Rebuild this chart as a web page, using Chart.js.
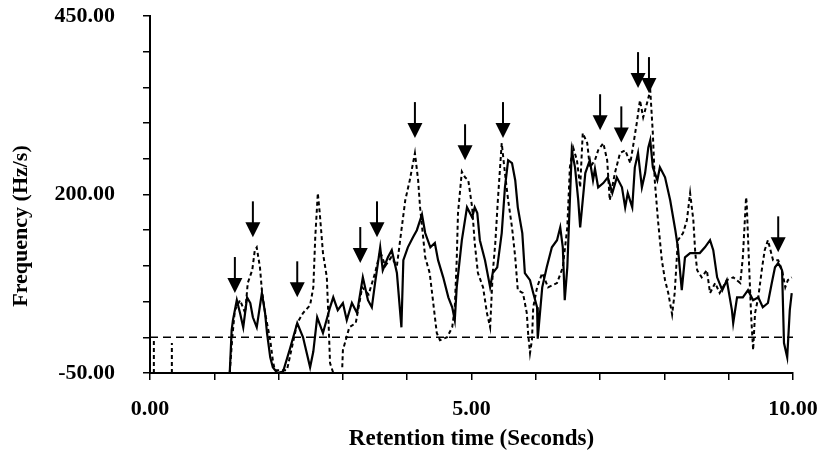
<!DOCTYPE html>
<html>
<head>
<meta charset="utf-8">
<script src="https://cdn.jsdelivr.net/npm/chart.js@4.4.1/dist/chart.umd.min.js"></script>
<style>
  html, body { margin: 0; padding: 0; background: #fff; }
  #wrap { width: 819px; height: 451px; }
</style>
</head>
<body>
<div id="wrap"><canvas id="chart" width="819" height="451"></canvas></div>
<script>
// ===== DATA =====
const solidTime = [1.24, 1.27, 1.29, 1.35, 1.40, 1.45, 1.51, 1.56, 1.60, 1.66, 1.74, 1.79, 1.82, 1.87, 1.91, 1.98,
  2.07, 2.18, 2.29, 2.38, 2.49, 2.54, 2.60, 2.69, 2.80, 2.85, 2.92, 3.00, 3.06, 3.14, 3.22, 3.31, 3.39, 3.45, 3.50,
  3.58, 3.62, 3.70, 3.76, 3.84, 3.91, 3.94, 4.01, 4.09, 4.15, 4.23, 4.28, 4.36, 4.43, 4.48, 4.56, 4.64, 4.70, 4.74,
  4.77, 4.85, 4.93, 5.01, 5.05, 5.09, 5.13, 5.21, 5.29, 5.33, 5.40, 5.47, 5.52, 5.57, 5.63, 5.68, 5.72, 5.79, 5.83,
  5.91, 5.96, 6.02, 6.03, 6.10, 6.17, 6.25, 6.33, 6.38, 6.42, 6.45, 6.49, 6.53, 6.56, 6.61, 6.66, 6.69, 6.77, 6.84,
  6.89, 6.92, 6.97, 7.05, 7.12, 7.19, 7.26, 7.34, 7.39, 7.43, 7.50, 7.54, 7.59, 7.65, 7.70, 7.75, 7.78, 7.82, 7.89,
  7.93, 8.01, 8.09, 8.17, 8.21, 8.27, 8.32, 8.40, 8.55, 8.63, 8.71, 8.76, 8.82, 8.90, 8.97, 9.05, 9.07, 9.13, 9.22,
  9.30, 9.38, 9.46, 9.53, 9.61, 9.67, 9.72, 9.77, 9.83, 9.86, 9.91, 9.95, 9.98];
const solidFreq = [-50, 10, 24, 52, 34, 14, 56, 48, 28, 14, 62, 34, 6, -28, -42, -50,
  -48, -15, 20, 0, -42, -20, 28, 6, 42, 56, 38, 48, 24, 48, 34, 84, 52, 42, 76,
  126, 94, 112, 122, 90, 14, 108, 126, 140, 150, 172, 146, 126, 132, 108, 84, 56, 42, 24,
  70, 136, 182, 168, 182, 174, 136, 108, 70, 90, 98, 146, 210, 248, 244, 220, 182, 146, 90,
  80, 62, 42, -2, 70, 98, 126, 136, 154, 126, 52, 98, 192, 262, 238, 192, 154, 230, 248,
  220, 236, 210, 216, 224, 202, 224, 210, 182, 202, 182, 238, 258, 210, 230, 266, 276, 238, 220,
  238, 224, 192, 150, 126, 66, 112, 118, 118, 126, 136, 122, 84, 66, 80, 38, 20, 56, 56,
  66, 52, 56, 42, 48, 76, 98, 104, 94, -8, -28, 38, 62];

const dashTime = [0.06, 0.06, 0.20, 0.34, 0.34, 0.80, 1.24, 1.28, 1.32, 1.40, 1.48, 1.52, 1.59, 1.63, 1.66, 1.71,
  1.74, 1.79, 1.87, 1.91, 1.94, 2.13, 2.29, 2.38, 2.49, 2.54, 2.57, 2.61, 2.64, 2.69, 2.75, 2.77, 2.80, 2.85, 2.92,
  2.99, 3.00, 3.10, 3.20, 3.30, 3.40, 3.50, 3.58, 3.66, 3.75, 3.84, 3.89, 3.97, 4.04, 4.12, 4.17, 4.20, 4.28, 4.35,
  4.40, 4.46, 4.51, 4.62, 4.70, 4.74, 4.77, 4.79, 4.85, 4.90, 4.95, 5.01, 5.05, 5.10, 5.18, 5.24, 5.29, 5.33, 5.37,
  5.41, 5.47, 5.52, 5.57, 5.63, 5.68, 5.72, 5.80, 5.86, 5.88, 5.91, 5.94, 5.96, 6.02, 6.10, 6.19, 6.33, 6.42, 6.49,
  6.53, 6.58, 6.64, 6.69, 6.73, 6.80, 6.84, 6.92, 6.97, 7.05, 7.11, 7.15, 7.23, 7.31, 7.39, 7.47, 7.51, 7.57, 7.62,
  7.67, 7.73, 7.78, 7.82, 7.85, 7.90, 7.96, 8.01, 8.06, 8.12, 8.16, 8.21, 8.29, 8.35, 8.40, 8.45, 8.48, 8.51, 8.58,
  8.66, 8.71, 8.79, 8.86, 8.97, 9.07, 9.18, 9.22, 9.27, 9.28, 9.32, 9.35, 9.38, 9.41, 9.46, 9.52, 9.56, 9.61, 9.69,
  9.77, 9.83, 9.88, 9.92, 9.98];
const dashFreq = [-50, -2, null, -50, -8, null, -50, 0, 38, 52, 34, 76, 94, 122, 126, 98,
  66, 34, -4, -32, -46, -46, 20, 34, 45, 70, 140, 202, 174, 118, 84, 38, -36, -50, null,
  -42, -18, 14, 20, 70, 60, 90, 120, 100, 112, 100, 136, 192, 220, 258, 220, 182, 112, 90,
  52, 6, -4, 0, 14, 42, 108, 174, 232, 224, 220, 182, 132, 90, 70, 34, 14, 90, 132,
  192, 272, 230, 192, 154, 112, 66, 62, 34, 6, -22, -4, 42, 70, 90, 70, 76, 98, 154,
  238, 266, 248, 210, 286, 272, 238, 248, 262, 272, 248, 192, 230, 258, 262, 244, 266, 300, 332,
  308, 328, 346, 286, 220, 164, 108, 80, 62, 32, 62, 136, 146, 164, 202, 164, 118, 94, 84,
  94, 62, 76, 62, 80, 84, 76, 112, 196, 188, 94, 28, -18, 34, 56, 98, 122, 136, 108,
  108, 94, 70, 80, 84];

const baselineTime = [0, 10];
const baselineFreq = [0, 0];

const arrowTime = [1.32, 1.60, 2.29, 3.27, 3.53, 4.12, 4.90, 5.49, 7.00, 7.33, 7.59, 7.76, 9.77];
const arrowFreq = [62, 140, 56, 104, 140, 279, 248, 279, 290, 273, 349, 342, 119];

const xLabelValues = [0, 5, 10];
const yLabelValues = [-50, 200, 450];

const toPoints = (xs, ys) => xs.map((x, i) => ({ x: x, y: ys[i] }));

const FONT = '"Liberation Serif", "Times New Roman", serif';

// ===== ARROWS =====
const arrowPlugin = {
  id: "arrows",
  afterDatasetsDraw(chart) {
    const { ctx, scales } = chart;
    ctx.save();
    ctx.fillStyle = "#000";
    ctx.strokeStyle = "#000";
    ctx.lineWidth = 2;
    arrowTime.forEach((t, i) => {
      const px = scales.x.getPixelForValue(t);
      const py = scales.y.getPixelForValue(arrowFreq[i]);
      ctx.beginPath();
      ctx.moveTo(px, py - 36);
      ctx.lineTo(px, py - 12);
      ctx.stroke();
      ctx.beginPath();
      ctx.moveTo(px - 7.5, py - 15);
      ctx.lineTo(px + 7.5, py - 15);
      ctx.lineTo(px, py);
      ctx.closePath();
      ctx.fill();
    });
    ctx.restore();
  }
};

// ===== Y TITLE =====
const yTitlePlugin = {
  id: "yTitle",
  afterDraw(chart) {
    const { ctx, chartArea } = chart;
    ctx.save();
    ctx.translate(21, chartArea.bottom - 147);
    ctx.rotate(-Math.PI / 2);
    ctx.font = "bold 22px " + FONT;
    ctx.fillStyle = "#000";
    ctx.textAlign = "center";
    ctx.textBaseline = "middle";
    ctx.fillText("Frequency (Hz/s)", 0, 0);
    ctx.restore();
  }
};

// ===== CHART =====
new Chart(document.getElementById("chart").getContext("2d"), {
  type: "line",
  data: {
    datasets: [
      { label: "baseline", data: toPoints(baselineTime, baselineFreq), borderColor: "#000", borderWidth: 1.5, borderDash: [8, 5], pointRadius: 0 },
      { label: "dashed", data: toPoints(dashTime, dashFreq), borderColor: "#000", borderWidth: 2, borderDash: [4, 3], pointRadius: 0, spanGaps: false },
      { label: "solid", data: toPoints(solidTime, solidFreq), borderColor: "#000", borderWidth: 2.2, pointRadius: 0 }
    ]
  },
  options: {
    responsive: false,
    animation: false,
    layout: { padding: { top: 16, right: 26, left: 0, bottom: 0 } },
    plugins: { legend: { display: false }, tooltip: { enabled: false } },
    elements: { line: { tension: 0 } },
    scales: {
      x: {
        type: "linear",
        min: 0, max: 10,
        afterFit: s => { s.height = 78; s.paddingLeft = 0; s.paddingRight = 0; },
        border: { display: true, color: "#000", width: 2 },
        grid: { drawOnChartArea: false, drawTicks: true, tickLength: 7, color: "#000", lineWidth: 1.5 },
        ticks: {
          stepSize: 1, autoSkip: false, maxRotation: 0, padding: 16, color: "#000",
          font: { family: FONT, size: 22, weight: "bold" },
          callback: v => xLabelValues.includes(v) ? v.toFixed(2) : ""
        },
        title: {
          display: true, text: "Retention time (Seconds)", color: "#000",
          font: { family: FONT, size: 23, weight: "bold" },
          padding: { top: 0, bottom: -2 }
        }
      },
      y: {
        min: -50, max: 450,
        afterFit: s => { s.width = 150; s.paddingTop = 0; s.paddingBottom = 0; },
        border: { display: true, color: "#000", width: 2 },
        grid: { drawOnChartArea: false, drawTicks: true, tickLength: 7, color: "#000", lineWidth: 1.5 },
        ticks: {
          stepSize: 50, autoSkip: false, padding: 28, color: "#000",
          font: { family: FONT, size: 22, weight: "bold" },
          callback: v => yLabelValues.includes(v) ? v.toFixed(2) : ""
        }
      }
    }
  },
  plugins: [arrowPlugin, yTitlePlugin]
});
</script>
</body>
</html>
